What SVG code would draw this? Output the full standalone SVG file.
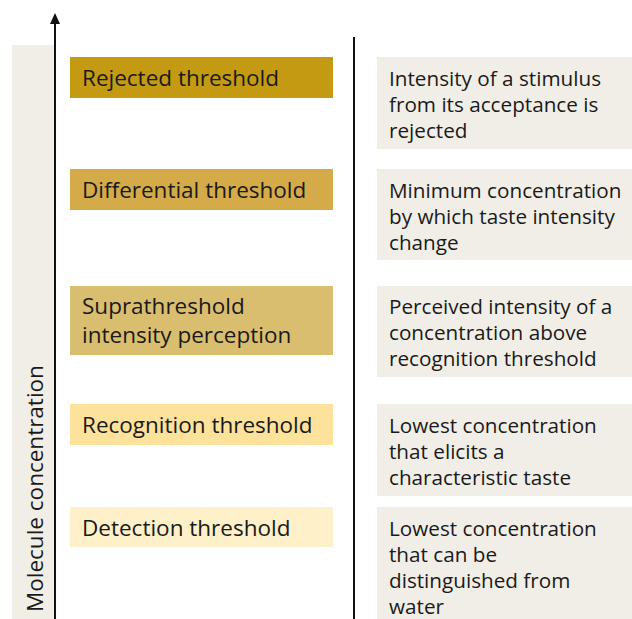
<svg xmlns="http://www.w3.org/2000/svg" width="632" height="619" viewBox="0 0 632 619">
<style>
text{font-family:"Open Sans","Noto Sans","Liberation Sans",sans-serif;font-size:20.7px;fill:#1a1a1a}
.lab{font-size:22.5px}
.desc{fill:#f1eee7}
.ax{stroke:#111;stroke-width:2;fill:none}
</style>
<rect x="12" y="45" width="42" height="574" fill="#f1eee7"/>
<g id="connectors">
<line class="ax" x1="55" y1="619" x2="55" y2="22"/>
<polygon points="55,13 50,24 60,24" fill="#111"/>
<line class="ax" x1="354" y1="37" x2="354" y2="619"/>
</g>
<text id="axis-label" class="lab" transform="translate(43,612) rotate(-90)">Molecule concentration</text>
<g id="rejected"><rect x="70" y="57" width="263" height="41" fill="#c49a12"/><text class="lab" x="82" y="86">Rejected threshold</text></g>
<g id="differential"><rect x="70" y="169" width="263" height="41" fill="#d4ab48"/><text class="lab" x="82" y="198">Differential threshold</text></g>
<g id="suprathreshold"><rect x="70" y="286" width="263" height="69" fill="#d9be70"/><text class="lab" x="82" y="314">Suprathreshold</text><text class="lab" x="82" y="343">intensity perception</text></g>
<g id="recognition"><rect x="70" y="404" width="263" height="41" fill="#fde29c"/><text class="lab" x="82" y="433">Recognition threshold</text></g>
<g id="detection"><rect x="70" y="507" width="263" height="40" fill="#fef0c9"/><text class="lab" x="82" y="536">Detection threshold</text></g>
<g id="desc-rejected"><rect class="desc" x="377" y="57" width="255" height="92"/><text x="389" y="86">Intensity of a stimulus</text><text x="389" y="112">from its acceptance is</text><text x="389" y="138">rejected</text></g>
<g id="desc-differential"><rect class="desc" x="377" y="169" width="255" height="91"/><text x="389" y="198">Minimum concentration</text><text x="389" y="224">by which taste intensity</text><text x="389" y="250">change</text></g>
<g id="desc-supra"><rect class="desc" x="377" y="286" width="255" height="91"/><text x="389" y="314">Perceived intensity of a</text><text x="389" y="340">concentration above</text><text x="389" y="366">recognition threshold</text></g>
<g id="desc-recognition"><rect class="desc" x="377" y="404" width="255" height="92"/><text x="389" y="433">Lowest concentration</text><text x="389" y="459">that elicits a</text><text x="389" y="485">characteristic taste</text></g>
<g id="desc-detection"><rect class="desc" x="377" y="507" width="255" height="112"/><text x="389" y="536">Lowest concentration</text><text x="389" y="562">that can be</text><text x="389" y="588">distinguished from</text><text x="389" y="614">water</text></g>
</svg>
